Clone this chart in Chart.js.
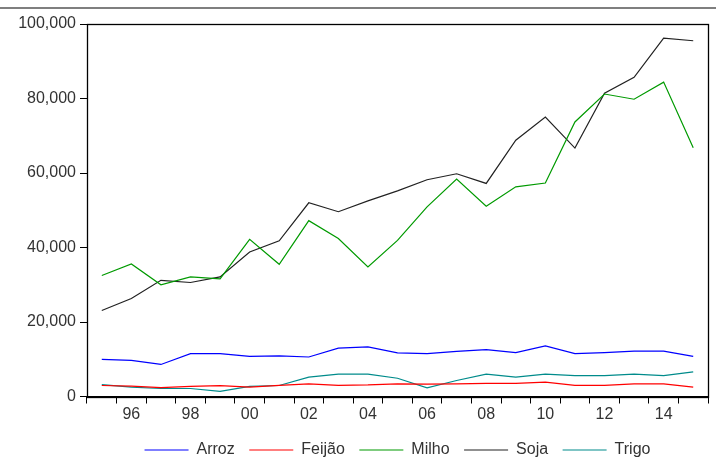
<!DOCTYPE html>
<html>
<head>
<meta charset="utf-8">
<script src="https://cdn.jsdelivr.net/npm/chart.js@4/dist/chart.umd.min.js"></script>
<style>
  html, body { margin: 0; padding: 0; background: #fff; }
  #wrap { width: 716px; height: 457px; position: relative; }
</style>
</head>
<body>
<div id="wrap"><canvas id="c" width="716" height="457"></canvas></div>
<script>
// Years 1995..2015
const years = [1995,1996,1997,1998,1999,2000,2001,2002,2003,2004,2005,2006,2007,2008,2009,2010,2011,2012,2013,2014,2015];
const arroz  = [9950, 9700, 8600, 11500, 11500, 10750, 10900, 10600, 13000, 13300, 11700, 11500, 12100, 12600, 11800, 13600, 11500, 11800, 12200, 12200, 10750];
const feijao = [2950, 2800, 2400, 2700, 2900, 2500, 3000, 3400, 3000, 3100, 3400, 3300, 3400, 3500, 3500, 3850, 3000, 3000, 3400, 3400, 2500];
const milho  = [32500, 35600, 30000, 32100, 31600, 42200, 35500, 47200, 42400, 34800, 41900, 50900, 58400, 51100, 56300, 57300, 73700, 81200, 79800, 84400, 66800];
const soja   = [23100, 26300, 31200, 30600, 32100, 38800, 41800, 52000, 49600, 52500, 55200, 58200, 59800, 57200, 68800, 75000, 66700, 81400, 85700, 96200, 95500];
const trigo  = [3200, 2500, 2150, 2150, 1400, 2700, 2950, 5200, 6000, 6000, 4900, 2300, 4300, 6000, 5200, 6000, 5600, 5600, 6000, 5600, 6600];
const yTicks = [0, 20000, 40000, 60000, 80000, 100000];
const seriesNames = ['Arroz', 'Feijão', 'Milho', 'Soja', 'Trigo'];
const seriesColors = ['#0000ff', '#ff0000', '#009a00', '#222222', '#008b8b'];

const labels = years.map(String);
const seriesData = [arroz, feijao, milho, soja, trigo];
const FONT = 'Liberation Sans, Arial, sans-serif';

const framePlugin = {
  id: 'frame',
  afterDraw(chart) {
    const { ctx, chartArea: a } = chart;
    ctx.save();
    ctx.strokeStyle = '#000';
    ctx.lineWidth = 1.3;
    ctx.strokeRect(Math.round(a.left) + 0.5, Math.round(a.top) + 0.5, Math.round(a.right - a.left), Math.round(a.bottom - a.top));
    // top rule (remnant of the page above the figure)
    ctx.strokeStyle = '#555';
    ctx.lineWidth = 1.5;
    ctx.beginPath();
    ctx.moveTo(0, 8);
    ctx.lineTo(chart.width, 8);
    ctx.stroke();
    ctx.restore();
  }
};

new Chart(document.getElementById('c'), {
  type: 'line',
  data: {
    labels: labels,
    datasets: seriesData.map((d, i) => ({
      label: seriesNames[i],
      data: d,
      borderColor: seriesColors[i],
      backgroundColor: seriesColors[i],
      borderWidth: 1.2,
      pointRadius: 0,
      tension: 0,
      fill: false
    }))
  },
  options: {
    responsive: false,
    animation: false,
    devicePixelRatio: 1,
    layout: { padding: { top: 24, left: 0, right: 8, bottom: -11 } },
    plugins: {
      tooltip: { enabled: false },
      legend: {
        position: 'bottom',
        fullSize: false,
        labels: {
          usePointStyle: true,
          pointStyle: 'line',
          pointStyleWidth: 44,
          boxHeight: 14,
          padding: 14.5,
          color: '#333',
          font: { family: FONT, size: 16 }
        }
      }
    },
    scales: {
      x: {
        type: 'category',
        offset: true,
        grid: { offset: true, drawOnChartArea: false, drawTicks: true, tickLength: 7, color: '#000', lineWidth: 1 },
        border: { display: true, color: '#000' },
        ticks: {
          autoSkip: false,
          maxRotation: 0,
          minRotation: 0,
          padding: 1,
          color: '#333',
          font: { family: FONT, size: 16 },
          callback: function(val, idx) {
            const y = years[idx];
            return (y % 2 === 0) ? String(y).slice(2) : '';
          }
        },
        afterFit: function(s) { s.height = 31; }
      },
      y: {
        min: 0,
        max: 100000,
        afterBuildTicks: function(s) { s.ticks = yTicks.map(v => ({ value: v })); },
        grid: { drawOnChartArea: false, drawTicks: true, tickLength: 7, color: '#000', lineWidth: 1 },
        border: { display: true, color: '#000' },
        ticks: {
          padding: 4,
          color: '#333',
          font: { family: FONT, size: 16 },
          callback: function(v) { return Number(v).toLocaleString('en-US'); }
        },
        afterFit: function(s) { s.width = 87; }
      }
    }
  },
  plugins: [framePlugin]
});
</script>
</body>
</html>
